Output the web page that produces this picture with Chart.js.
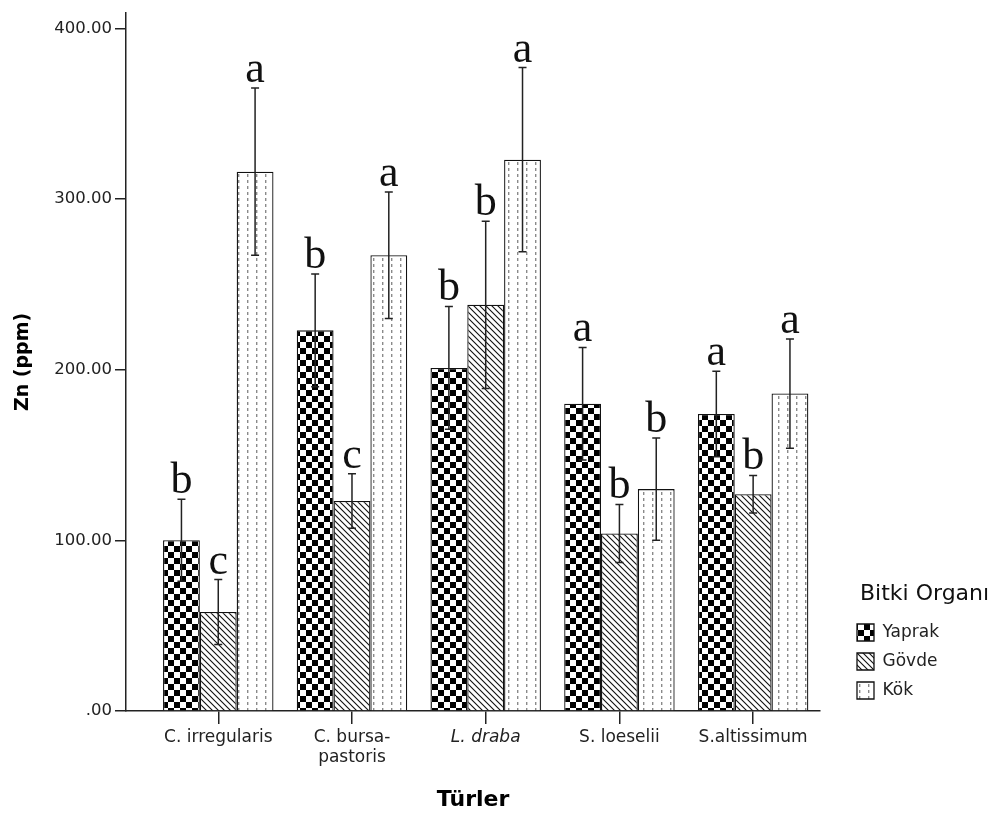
<!DOCTYPE html>
<html>
<head>
<meta charset="utf-8">
<script src="https://cdn.jsdelivr.net/npm/chart.js@4.4.1/dist/chart.umd.min.js"></script>
<style>
  html, body { margin: 0; padding: 0; background: #fff; }
</style>
</head>
<body>
<canvas id="chart" width="998" height="821"></canvas>
<script>
// species on the x axis (multi-line labels as arrays)
const species = [['C. irregularis'], ['C. bursa-', 'pastoris'], ['L. draba'], ['S. loeselii'], ['S.altissimum']];
const organs = ['Yaprak', 'Gövde', 'Kök'];
const legendTitle = 'Bitki Organı';

// mean Zn (ppm) per organ
const yaprak = [100, 223, 201, 180, 174];
const govde = [58, 123, 238, 104, 127];
const kok = [316, 267, 323, 130, 186];

// error bar half-lengths
const yaprakErr = [24, 33, 36, 33, 25];
const govdeErr = [19, 16, 49, 17, 11];
const kokErr = [49, 37, 54, 30, 32];

// significance letters above each bar
const yaprakLetters = ['b', 'b', 'b', 'a', 'a'];
const govdeLetters = ['c', 'c', 'b', 'b', 'b'];
const kokLetters = ['a', 'a', 'a', 'b', 'a'];

const yTicks = [0, 100, 200, 300, 400];
const yTickLabels = ['.00', '100.00', '200.00', '300.00', '400.00'];

const canvas = document.getElementById('chart');
const ctx = canvas.getContext('2d');

// fill patterns for the three organs
function makePattern(w, h, draw) {
  const c = document.createElement('canvas');
  c.width = w;
  c.height = h;
  const g = c.getContext('2d');
  g.fillStyle = '#fff';
  g.fillRect(0, 0, w, h);
  draw(g);
  return ctx.createPattern(c, 'repeat');
}

const checker = makePattern(12, 12, g => {
  g.fillStyle = '#000';
  g.fillRect(0, 0, 6, 6);
  g.fillRect(6, 6, 6, 6);
});

const hatch = makePattern(6, 6, g => {
  g.strokeStyle = '#111';
  g.lineWidth = 1.1;
  g.beginPath();
  g.moveTo(-1, -1); g.lineTo(7, 7);
  g.moveTo(-1, 5); g.lineTo(1, 7);
  g.moveTo(5, -1); g.lineTo(7, 1);
  g.stroke();
});

const dots = makePattern(9, 6, g => {
  g.fillStyle = '#8a8a8a';
  g.fillRect(4, 0, 1.4, 3);
});

const toPoints = arr => arr.map((v, i) => ({ x: i, y: v }));

const series = [
  { label: organs[0], values: yaprak, err: yaprakErr, letters: yaprakLetters, fill: checker },
  { label: organs[1], values: govde, err: govdeErr, letters: govdeLetters, fill: hatch },
  { label: organs[2], values: kok, err: kokErr, letters: kokLetters, fill: dots }
];

// error bars + letters, positioned from the bar elements and the y scale
const errorBars = {
  id: 'errorBars',
  afterDatasetsDraw(chart) {
    const c = chart.ctx;
    const yScale = chart.scales.y;
    c.save();
    series.forEach((s, di) => {
      const meta = chart.getDatasetMeta(di);
      meta.data.forEach((bar, i) => {
        const top = yScale.getPixelForValue(s.values[i] + s.err[i]);
        const bot = yScale.getPixelForValue(s.values[i] - s.err[i]);
        c.strokeStyle = '#222';
        c.lineWidth = 1.5;
        c.beginPath();
        c.moveTo(bar.x, top); c.lineTo(bar.x, bot);
        c.moveTo(bar.x - 4, top); c.lineTo(bar.x + 4, top);
        c.moveTo(bar.x - 4, bot); c.lineTo(bar.x + 4, bot);
        c.stroke();
        c.fillStyle = '#111';
        c.font = '44px "Liberation Serif", "Times New Roman", serif';
        c.textAlign = 'center';
        c.textBaseline = 'alphabetic';
        c.fillText(s.letters[i], bar.x, top - 6);
      });
    });
    c.restore();
  }
};

// legend heading (the built-in legend title gets clipped to the legend box)
const legendHeading = {
  id: 'legendHeading',
  afterDraw(chart) {
    const lg = chart.legend;
    if (!lg || !lg.legendHitBoxes || !lg.legendHitBoxes.length) return;
    const c = chart.ctx;
    c.save();
    c.fillStyle = '#111';
    c.font = '22px "DejaVu Sans"';
    c.textAlign = 'left';
    c.textBaseline = 'middle';
    c.fillText(legendTitle, lg.left + 15, lg.legendHitBoxes[0].top - 30);
    c.restore();
  }
};

const chart = new Chart(ctx, {
  type: 'bar',
  data: {
    datasets: series.map(s => ({
      label: s.label,
      data: toPoints(s.values),
      backgroundColor: s.fill,
      borderColor: '#111',
      borderWidth: 1.3,
      categoryPercentage: 0.826,
      barPercentage: 1.0
    }))
  },
  options: {
    responsive: false,
    animation: false,
    devicePixelRatio: 1,
    layout: { padding: { top: 3, right: 49, bottom: 0, left: 0 } },
    scales: {
      x: {
        type: 'linear',
        min: -0.69,
        max: 4.5,
        offset: false,
        afterBuildTicks: s => { s.ticks = species.map((_, i) => ({ value: i })); },
        afterFit: s => { s.height = 110; },
        border: { display: true, color: '#222', width: 1.5 },
        grid: { display: true, offset: false, drawOnChartArea: false, drawTicks: true, tickLength: 13, color: '#222', lineWidth: 1.5 },
        ticks: {
          autoSkip: false,
          maxRotation: 0,
          padding: 3,
          color: '#222',
          callback: v => species[v],
          font: c => ({ family: 'DejaVu Sans', size: 17, style: c.index === 2 ? 'italic' : 'normal' })
        },
        title: {
          display: true,
          text: 'Türler',
          color: '#000',
          font: { family: 'DejaVu Sans', size: 22, weight: 'bold' },
          padding: { top: 0, bottom: 8 }
        }
      },
      y: {
        min: 0,
        max: 409,
        afterBuildTicks: s => { s.ticks = yTicks.map(v => ({ value: v })); },
        afterFit: s => { s.width = 126; },
        border: { display: true, color: '#222', width: 1.5 },
        grid: { display: true, drawOnChartArea: false, drawTicks: true, tickLength: 11, color: '#222', lineWidth: 1.5 },
        ticks: {
          padding: 3,
          color: '#222',
          font: { family: 'DejaVu Sans', size: 16.5 },
          callback: v => yTickLabels[yTicks.indexOf(v)]
        },
        title: {
          display: true,
          text: 'Zn (ppm)',
          color: '#000',
          font: { family: 'DejaVu Sans', size: 19, weight: 'bold' },
          padding: { top: 12, bottom: 0 }
        }
      },
      // empty spacer between plot and legend
      gap: {
        type: 'linear',
        position: 'right',
        display: true,
        grid: { display: false },
        border: { display: false },
        ticks: { display: false },
        afterFit: s => { s.width = 25; }
      }
    },
    plugins: {
      legend: {
        display: true,
        position: 'right',
        align: 'end',
        fullSize: false,
        labels: {
          boxWidth: 17,
          boxHeight: 17,
          padding: 12,
          color: '#222',
          font: { family: 'DejaVu Sans', size: 17 }
        }
      },
      tooltip: { enabled: false }
    }
  },
  plugins: [errorBars, legendHeading]
});
</script>
</body>
</html>
